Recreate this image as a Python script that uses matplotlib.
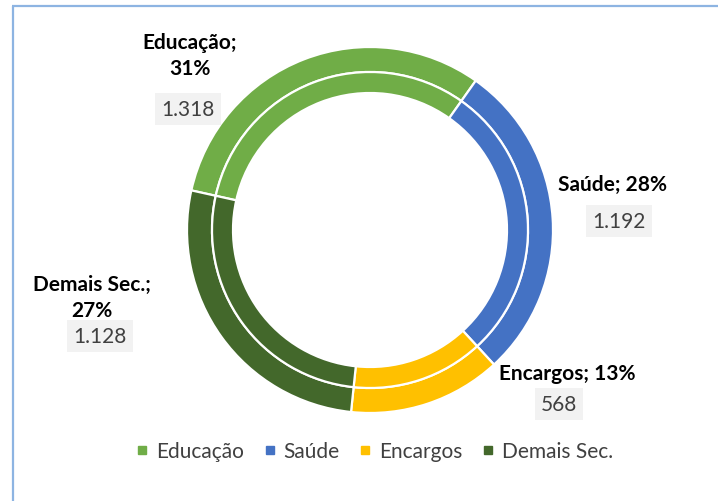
import numpy as np
import matplotlib
matplotlib.use('Agg')
import matplotlib.pyplot as plt
from matplotlib.lines import Line2D

plt.rcParams['font.family'] = ['Lato', 'DejaVu Sans']

# dados
categorias = ['Educação', 'Saúde', 'Encargos', 'Demais Sec.']
valores = [1318, 1192, 568, 1128]
valores_txt = ['1.318', '1.192', '568', '1.128']
percentuais = [31, 28, 13, 27]
cores = ['#70AD47', '#4472C4', '#FFC000', '#43682B']

W, H = 718, 502
fig = plt.figure(figsize=(W / 100, H / 100), dpi=100)
ax = fig.add_axes([0, 0, 1, 1])

cx, cy = 370, H - 231
r_ext = 183
r_sep = 158
r_int = 137

# anel externo e interno
ax.pie(valores, colors=cores, radius=r_ext, center=(cx, cy), startangle=167.5,
       counterclock=False, wedgeprops=dict(width=r_ext - r_sep, edgecolor='white', linewidth=1.6))
ax.pie(valores, colors=cores, radius=r_sep, center=(cx, cy), startangle=167.5,
       counterclock=False, wedgeprops=dict(width=r_sep - r_int, edgecolor='white', linewidth=1.6))

ax.set_xlim(0, W)
ax.set_ylim(0, H)
ax.set_aspect('auto')
ax.axis('off')

# rotulos (posicao em pixels da imagem)
pos_rotulo = [(190, 56), (612, 185), (567, 374), (92, 298)]
pos_valor = [(188, 110), (619, 222), (559, 405), (100, 337)]
quebra = [True, False, False, True]

for i in range(len(categorias)):
    sep = ';\n' if quebra[i] else '; '
    txt = categorias[i] + sep + str(percentuais[i]) + '%'
    x, y = pos_rotulo[i]
    ax.text(x, H - y, txt, ha='center', va='center', fontsize=15, fontweight='bold',
            color='black', linespacing=1.35)
    x, y = pos_valor[i]
    ax.text(x, H - y, valores_txt[i], ha='center', va='center', fontsize=15, color='#404040',
            bbox=dict(boxstyle='square,pad=0.3', facecolor='#F2F2F2', edgecolor='none'))

# borda do grafico
ax.plot([12.5, 12.5], [0, H - 6.5], color='#8DB4E2', lw=1.6, solid_capstyle='butt')
ax.plot([12, W], [H - 6.5, H - 6.5], color='#8DB4E2', lw=1.6, solid_capstyle='butt')

handles = [Line2D([], [], marker='s', linestyle='none', markersize=6, color=c) for c in cores]
fig.legend(handles, categorias, loc='center', bbox_to_anchor=(375 / W, 1 - 452 / H), ncol=4,
           frameon=False, fontsize=15, handlelength=0.5, handletextpad=0.4, columnspacing=1.0,
           labelcolor='#404040')

fig.savefig('out.png', dpi=100)
